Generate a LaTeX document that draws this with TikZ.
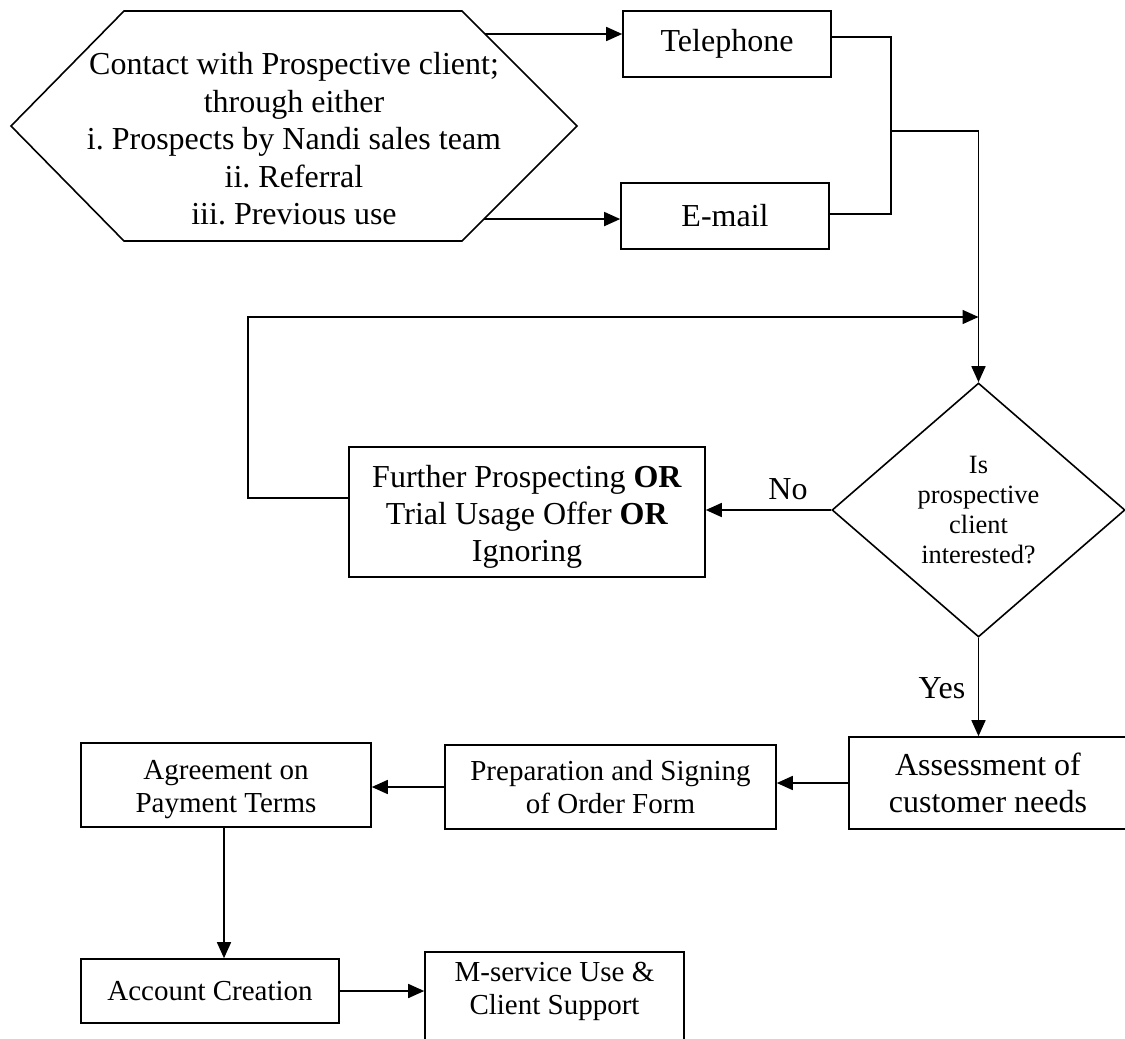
\documentclass[tikz,border=0pt]{standalone}
\usepackage{fontspec}
\setmainfont{Liberation Serif}
\usetikzlibrary{arrows.meta,calc,shapes.geometric}
\frenchspacing
\begin{document}
\begin{tikzpicture}[x=0.5pt,y=-0.5pt,line width=0.8pt,
  big/.style={font=\fontsize{16}{18.5}\selectfont},
  mid/.style={font=\fontsize{14.5}{16.5}\selectfont},
  small/.style={font=\fontsize{13.2}{15}\selectfont},
  box/.style={draw, rectangle, inner sep=0pt, align=center},
  arr/.style={-{Triangle[length=8pt,width=7pt]}}]
\useasboundingbox (0,0) rectangle (1125,1039);

% starting hexagon
\coordinate (hL)  at (11,126);
\coordinate (hTL) at (124,11);
\coordinate (hTR) at (462,11);
\coordinate (hR)  at (577,126);
\coordinate (hBR) at (462,241);
\coordinate (hBL) at (124,241);
\draw (hL) -- (hTL) -- (hTR) -- (hR) -- (hBR) -- (hBL) -- cycle;
\node[font=\fontsize{16}{18.75}\selectfont, align=center] (contact) at (294,139)
  {Contact with Prospective client;\\through either\\i. Prospects by Nandi sales team\\ii. Referral\\iii. Previous use};
\coordinate (hA) at ($(hTR)!0.2!(hR)$);
\coordinate (hB) at ($(hR)!0.809!(hBR)$);

% contact channels
\node[box, big, minimum width=104pt, minimum height=33pt] (tel) at (727,44) {Telephone};
\node[box, big, minimum width=104pt, minimum height=33pt] (email) at (725,216) {E-mail};

% decision and follow-up
\node[draw, diamond, small, align=center, inner sep=0pt,
      minimum width=146.5pt, minimum height=127pt] (dec) at (978.5,510)
  {Is\\prospective\\client\\interested?};
\node[box, minimum width=178pt, minimum height=65pt] (further) at (527,512) {};
\node[big, align=center] (furthertxt) at (527,517)
  {Further Prospecting \textbf{OR}\\Trial Usage Offer \textbf{OR}\\Ignoring};

% order steps
\node[box, big, minimum width=139pt, minimum height=46pt] (assess) at (988,783)
  {Assessment of\\customer needs};
\node[box, mid, minimum width=165.5pt, minimum height=42pt] (prep) at (610.5,787)
  {Preparation and Signing\\of Order Form};
\node[box, minimum width=145pt, minimum height=42pt] (agree) at (226,785) {};
\node[mid, align=center] (agreetxt) at (226,790) {Agreement on\\Payment Terms};
\node[box, mid, minimum width=129pt, minimum height=32pt] (account) at (210,991)
  {Account Creation};
\node[box, minimum width=129.5pt, minimum height=54pt] (mserv) at (554.5,1006) {};
\node[mid, align=center] (mservtxt) at (554.5,991) {M-service Use \&\\Client Support};

% connectors
\coordinate (bus) at (891,131);
\coordinate (loopc) at (248,317);
\draw[arr] (hA) -- (hA -| tel.west);
\draw[arr] (hB) -- (hB -| email.west);
\draw ([yshift=3.5pt]tel.east) -| (bus) |- ([yshift=1pt]email.east);
\draw[arr] (bus) -| (dec.north);
\draw[arr] ([yshift=7pt]further.west) -| (loopc) -- (loopc -| dec.north);
\draw[arr] (dec.west) -- (dec.west -| further.east);
\node[big] (nolbl) at (788,489) {No};
\draw[arr] (dec.south) -- (dec.south |- assess.north);
\node[big] (yeslbl) at (942,688) {Yes};
\draw[arr] (assess.west) -- (assess.west -| prep.east);
\draw[arr] (prep.west) -- (prep.west -| agree.east);
\draw[arr] ([xshift=-1pt]agree.south) -- ([xshift=-1pt]agree.south |- account.north);
\draw[arr] (account.east) -- (account.east -| mserv.west);
\end{tikzpicture}
\end{document}
